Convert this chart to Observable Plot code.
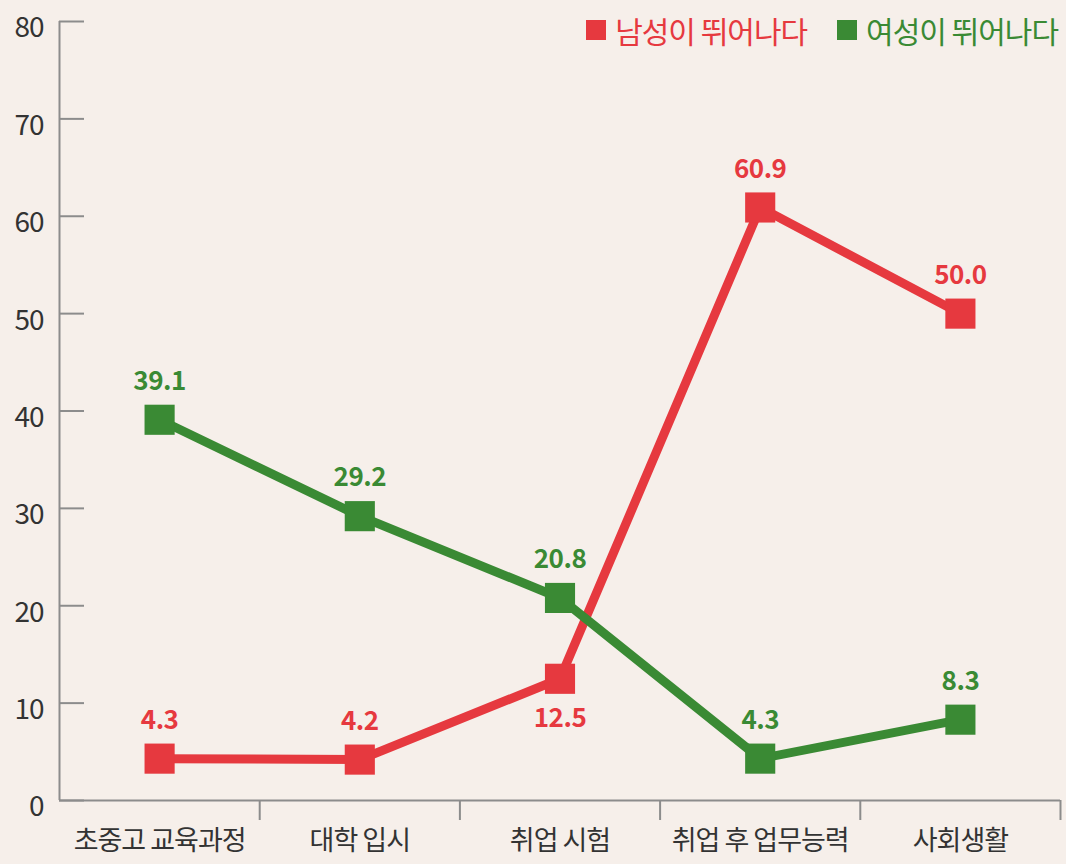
<!DOCTYPE html>
<html>
<head>
<meta charset="utf-8">
<script src="https://cdn.jsdelivr.net/npm/d3@7"></script>
<script src="https://cdn.jsdelivr.net/npm/@observablehq/plot@0.6"></script>
<style>
  html, body { margin: 0; padding: 0; background: #f6efea; }
  #wrap { position: relative; width: 1066px; height: 864px; font-family: "Noto Sans CJK KR", "Noto Sans", sans-serif; }
  #legend { position: absolute; top: 8px; right: 8px; display: flex; align-items: center; font-size: 30px; letter-spacing: -1px; }
  .item { display: flex; align-items: center; margin-left: 30px; }
  .sw { width: 20px; height: 20px; margin-right: 9px; }
  g[aria-label="x-axis tick label"] text { letter-spacing: -1px; }
  g[aria-label="y-axis tick label"] text { letter-spacing: -1px; }
  g[aria-label="text"] text { letter-spacing: -0.5px; }
</style>
</head>
<body>
<div id="wrap">
  <div id="chart"></div>
  <div id="legend"></div>
</div>
<script>
const categories = ["초중고 교육과정", "대학 입시", "취업 시험", "취업 후 업무능력", "사회생활"];
const seriesNames = ["남성이 뛰어나다", "여성이 뛰어나다"];
const maleValues = [4.3, 4.2, 12.5, 60.9, 50.0];
const femaleValues = [39.1, 29.2, 20.8, 4.3, 8.3];
const yTicks = [0, 10, 20, 30, 40, 50, 60, 70, 80];
const colors = ["#e6393f", "#3a8a34"];

const data = [];
categories.forEach((c, i) => {
  data.push({i, category: c, series: seriesNames[0], value: maleValues[i]});
  data.push({i, category: c, series: seriesNames[1], value: femaleValues[i]});
});
const maleData = data.filter(d => d.series === seriesNames[0]);
const femaleData = data.filter(d => d.series === seriesNames[1]);
const maleBelow = maleData.filter(d => d.value < 20 && d.value > 10);
const maleAbove = maleData.filter(d => !(d.value < 20 && d.value > 10));

const font = '"Noto Sans CJK KR", "Noto Sans", sans-serif';
const boundaries = d3.range(categories.length).map(i => i + 0.5);

const chart = Plot.plot({
  width: 1066,
  height: 864,
  marginLeft: 59,
  marginRight: 6,
  marginTop: 21,
  marginBottom: 64,
  style: {background: "#f6efea", fontFamily: font, color: "#333"},
  x: {type: "linear", domain: [-0.5, categories.length - 0.5], axis: null},
  y: {domain: [0, 80], axis: null},
  color: {domain: seriesNames, range: colors},
  marks: [
    Plot.ruleX([-0.5], {stroke: "#8c8c8c", strokeWidth: 2}),
    Plot.ruleY([0], {stroke: "#8c8c8c", strokeWidth: 2}),
    Plot.axisX(boundaries, {tickSize: 20, tickFormat: () => "", label: null, stroke: "#8c8c8c", strokeWidth: 2}),
    Plot.axisX(d3.range(categories.length), {tickSize: 0, tickPadding: 30, tickFormat: i => categories[i], label: null, fontSize: 27, fill: "#333"}),
    Plot.axisY(yTicks, {tickSize: -25, tickFormat: () => "", label: null, stroke: "#8c8c8c", strokeWidth: 2}),
    Plot.axisY(yTicks, {tickSize: 0, tickPadding: 16, label: null, fontSize: 28, fill: "#333", dy: 7}),
    Plot.line(maleData, {x: "i", y: "value", stroke: "series", strokeWidth: 9}),
    Plot.line(femaleData, {x: "i", y: "value", stroke: "series", strokeWidth: 9}),
    Plot.dot(data, {x: "i", y: "value", fill: "series", symbol: "square", r: 17}),
    Plot.text(femaleData, {x: "i", y: "value", text: d => d.value.toFixed(1), fill: "series", dy: -38, fontSize: 26, fontWeight: "bold"}),
    Plot.text(maleAbove, {x: "i", y: "value", text: d => d.value.toFixed(1), fill: "series", dy: -38, fontSize: 26, fontWeight: "bold"}),
    Plot.text(maleBelow, {x: "i", y: "value", text: d => d.value.toFixed(1), fill: "series", dy: 40, fontSize: 26, fontWeight: "bold"})
  ]
});
document.getElementById("chart").appendChild(chart);

const legend = document.getElementById("legend");
seriesNames.forEach((name, k) => {
  const item = document.createElement("div");
  item.className = "item";
  const sw = document.createElement("span");
  sw.className = "sw";
  sw.style.background = colors[k];
  const t = document.createElement("span");
  t.textContent = name;
  t.style.color = colors[k];
  item.appendChild(sw);
  item.appendChild(t);
  legend.appendChild(item);
});
</script>
</body>
</html>
